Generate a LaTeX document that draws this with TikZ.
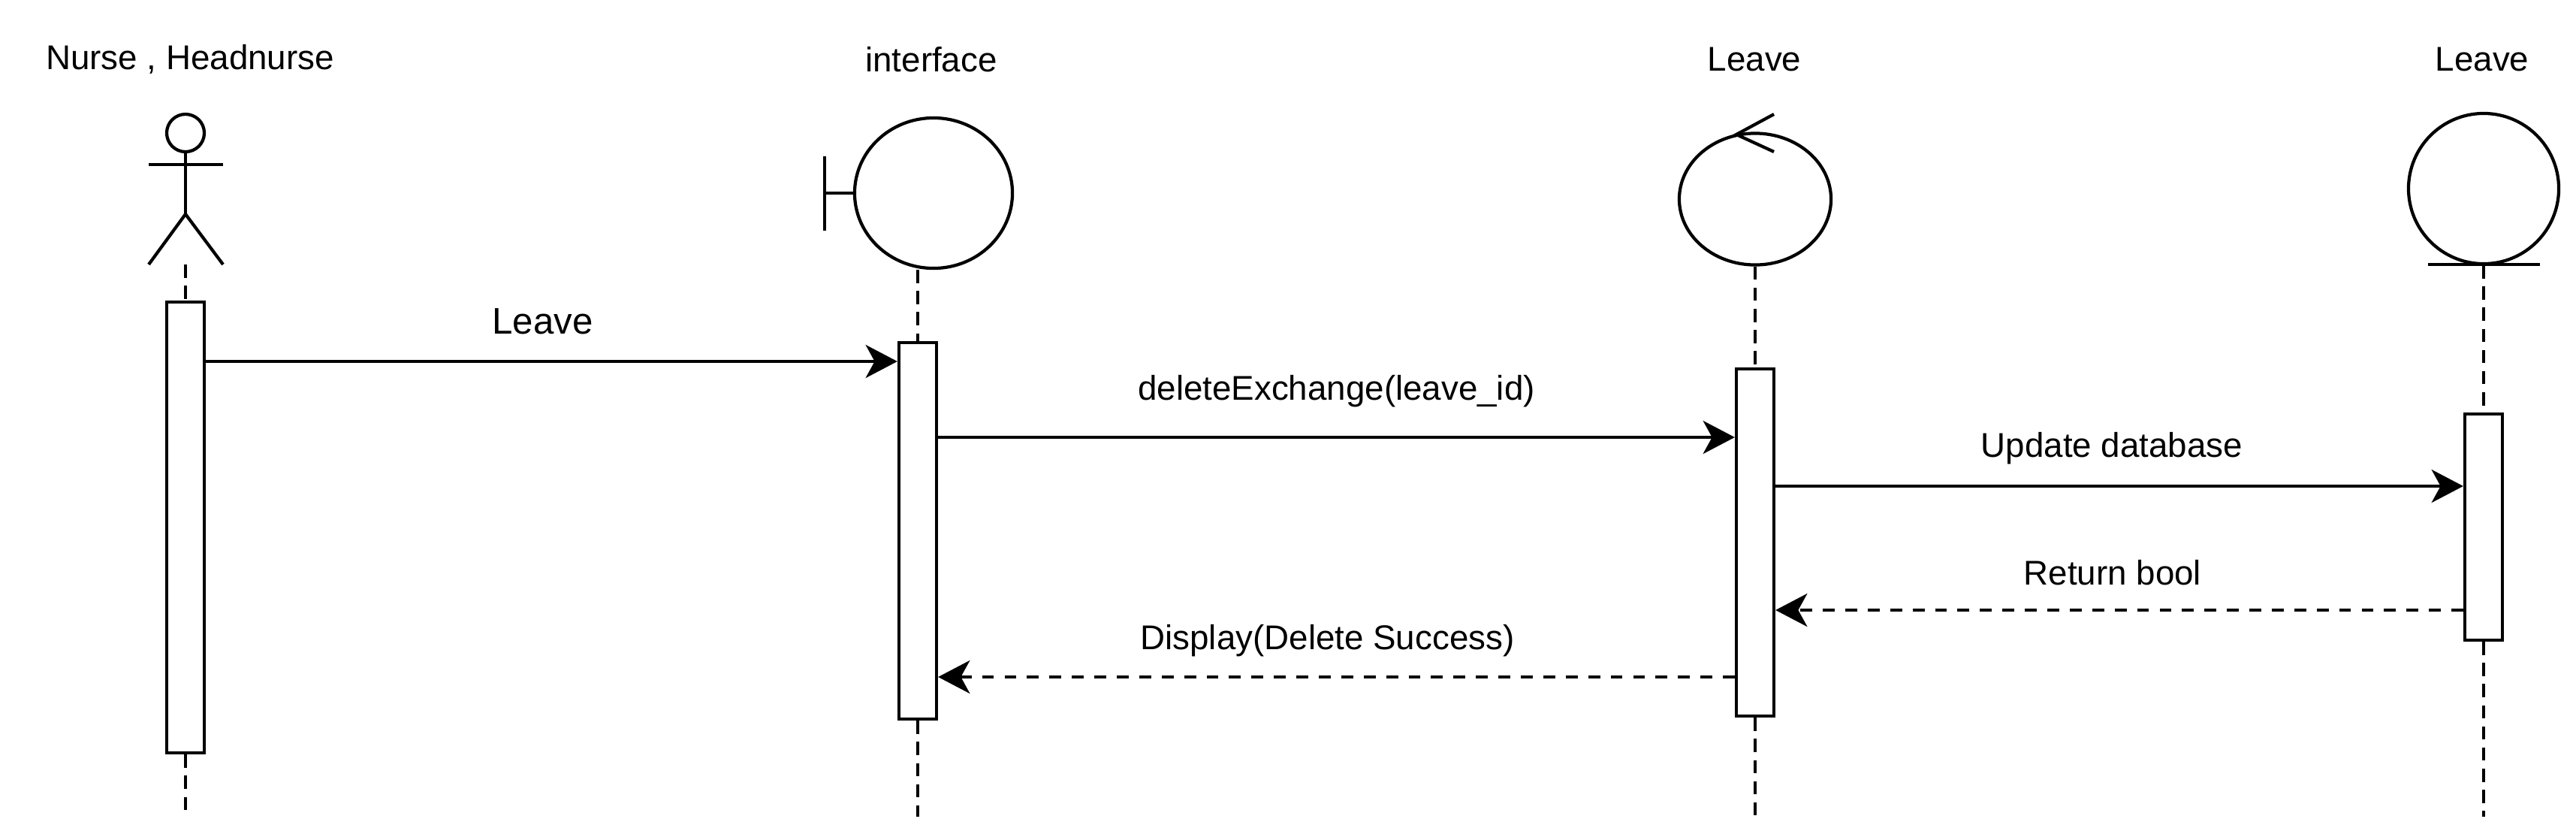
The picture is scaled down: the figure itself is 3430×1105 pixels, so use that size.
\documentclass[tikz,border=0pt]{standalone}
\usepackage{fontspec}
\setmainfont{Liberation Sans}
\usepackage{tikz}
\usetikzlibrary{arrows.meta}
\usetikzlibrary{shapes}
\tikzset{
  thin line/.style={line width=1.2pt},
  actbox/.style={draw, fill=white, line width=1.2pt, minimum width=0.5cm, inner sep=0pt},
  life/.style={line width=1.2pt, dash pattern=on 5pt off 3pt},
  msg/.style={line width=1.2pt, -{Stealth[length=12pt,width=12.5pt,inset=3.4pt]}},
  reply/.style={msg, dash pattern=on 4.5pt off 4pt},
  head/.style={font=\fontsize{13}{15}\selectfont, inner sep=0pt},
  lbl/.style={font=\fontsize{13}{15}\selectfont, anchor=base, inner sep=0pt},
}
\newcommand{\actbar}[4]{\node[actbox, minimum height=#4] (#1) at (#2,#3) {};}
\newcommand{\lifeend}[2]{\coordinate (#1) at (#2,1087);}

\begin{document}
\begin{tikzpicture}[x=0.01cm,y=-0.01cm]
\useasboundingbox (0,0) rectangle (3430,1105);
% participant names
\node[head] (nActor) at (253,79) {Nurse , Headnurse};
\node[head] (nIfc) at (1240,79) {interface};
\node[head] (nCtl) at (2336,79) {Leave};
\node[head] (nEnt) at (3305,79) {Leave};
% actor
\node[circle, draw, thin line, minimum size=0.5cm, inner sep=0pt] (actH) at (247,177) {};
\coordinate (hip) at (247,285);
\coordinate (feet) at (247,352);
\draw[thin line] (actH.south) -- (hip);
\draw[thin line] (198,219) -- (297,219);
\draw[thin line, line join=round] (198,352) -- (hip) -- (297,352);
% boundary
\node[ellipse, draw, thin line, minimum width=2.1cm, minimum height=2cm, inner sep=0pt] (ifc) at (1243,257) {};
\coordinate (ifcbar) at (1098,257);
\draw[thin line] (1098,208) -- (1098,307);
\draw[thin line] (ifcbar) -- (ifc.west);
% control
\node[ellipse, draw, thin line, minimum width=2.02cm, minimum height=1.75cm, inner sep=0pt] (ctl) at (2337,265) {};
\draw[thin line] (2362,152) -- (2312,179) -- (2362,202);
% entity
\node[circle, draw, thin line, minimum size=2cm, inner sep=0pt] (ent) at (3307,251) {};
\draw[thin line] (3233,352) -- (3382,352);
% activation bars
\actbar{actA}{247}{702}{6cm}
\actbar{actI}{1222}{706.5}{5.01cm}
\actbar{actC}{2337}{722}{4.62cm}
\actbar{actE}{3307}{701.5}{3.01cm}
% lifelines
\lifeend{endA}{247}
\lifeend{endI}{1222}
\lifeend{endC}{2337}
\lifeend{endE}{3307}
\draw[life] (feet) -- (actA.north);
\draw[life] (actA.south) -- (endA);
\draw[life] (actI.north |- ifc.south) -- (actI.north);
\draw[life] (actI.south) -- (endI);
\draw[life] (ctl.south) -- (actC.north);
\draw[life] (actC.south) -- (endC);
\draw[life] (ent.south) -- (actE.north);
\draw[life] (actE.south) -- (endE);
% message levels
\coordinate (m1) at (0,481);
\coordinate (m2) at (0,582);
\coordinate (m3) at (0,647);
\coordinate (m4) at (0,812);
\coordinate (m5) at (0,901);
% messages
\draw[msg] (actA.east |- m1) -- (actI.west |- m1)
  node[lbl, midway, yshift=0.36cm, xshift=-0.12cm, font=\fontsize{14}{16}\selectfont] (l1) {Leave};
\draw[msg] (actI.east |- m2) -- (actC.west |- m2)
  node[lbl, midway, yshift=0.49cm] (l2) {deleteExchange(leave\_id)};
\draw[msg] (actC.east |- m3) -- (actE.west |- m3)
  node[lbl, midway, yshift=0.38cm, xshift=-0.1cm] (l3) {Update database};
\draw[reply] (actE.west |- m4) -- (actC.east |- m4)
  node[lbl, midway, yshift=0.34cm, xshift=-0.09cm] (l4) {Return bool};
\draw[reply] (actC.west |- m5) -- (actI.east |- m5)
  node[lbl, midway, yshift=0.37cm, xshift=-0.12cm] (l5) {Display(Delete Success)};
\end{tikzpicture}
\end{document}
